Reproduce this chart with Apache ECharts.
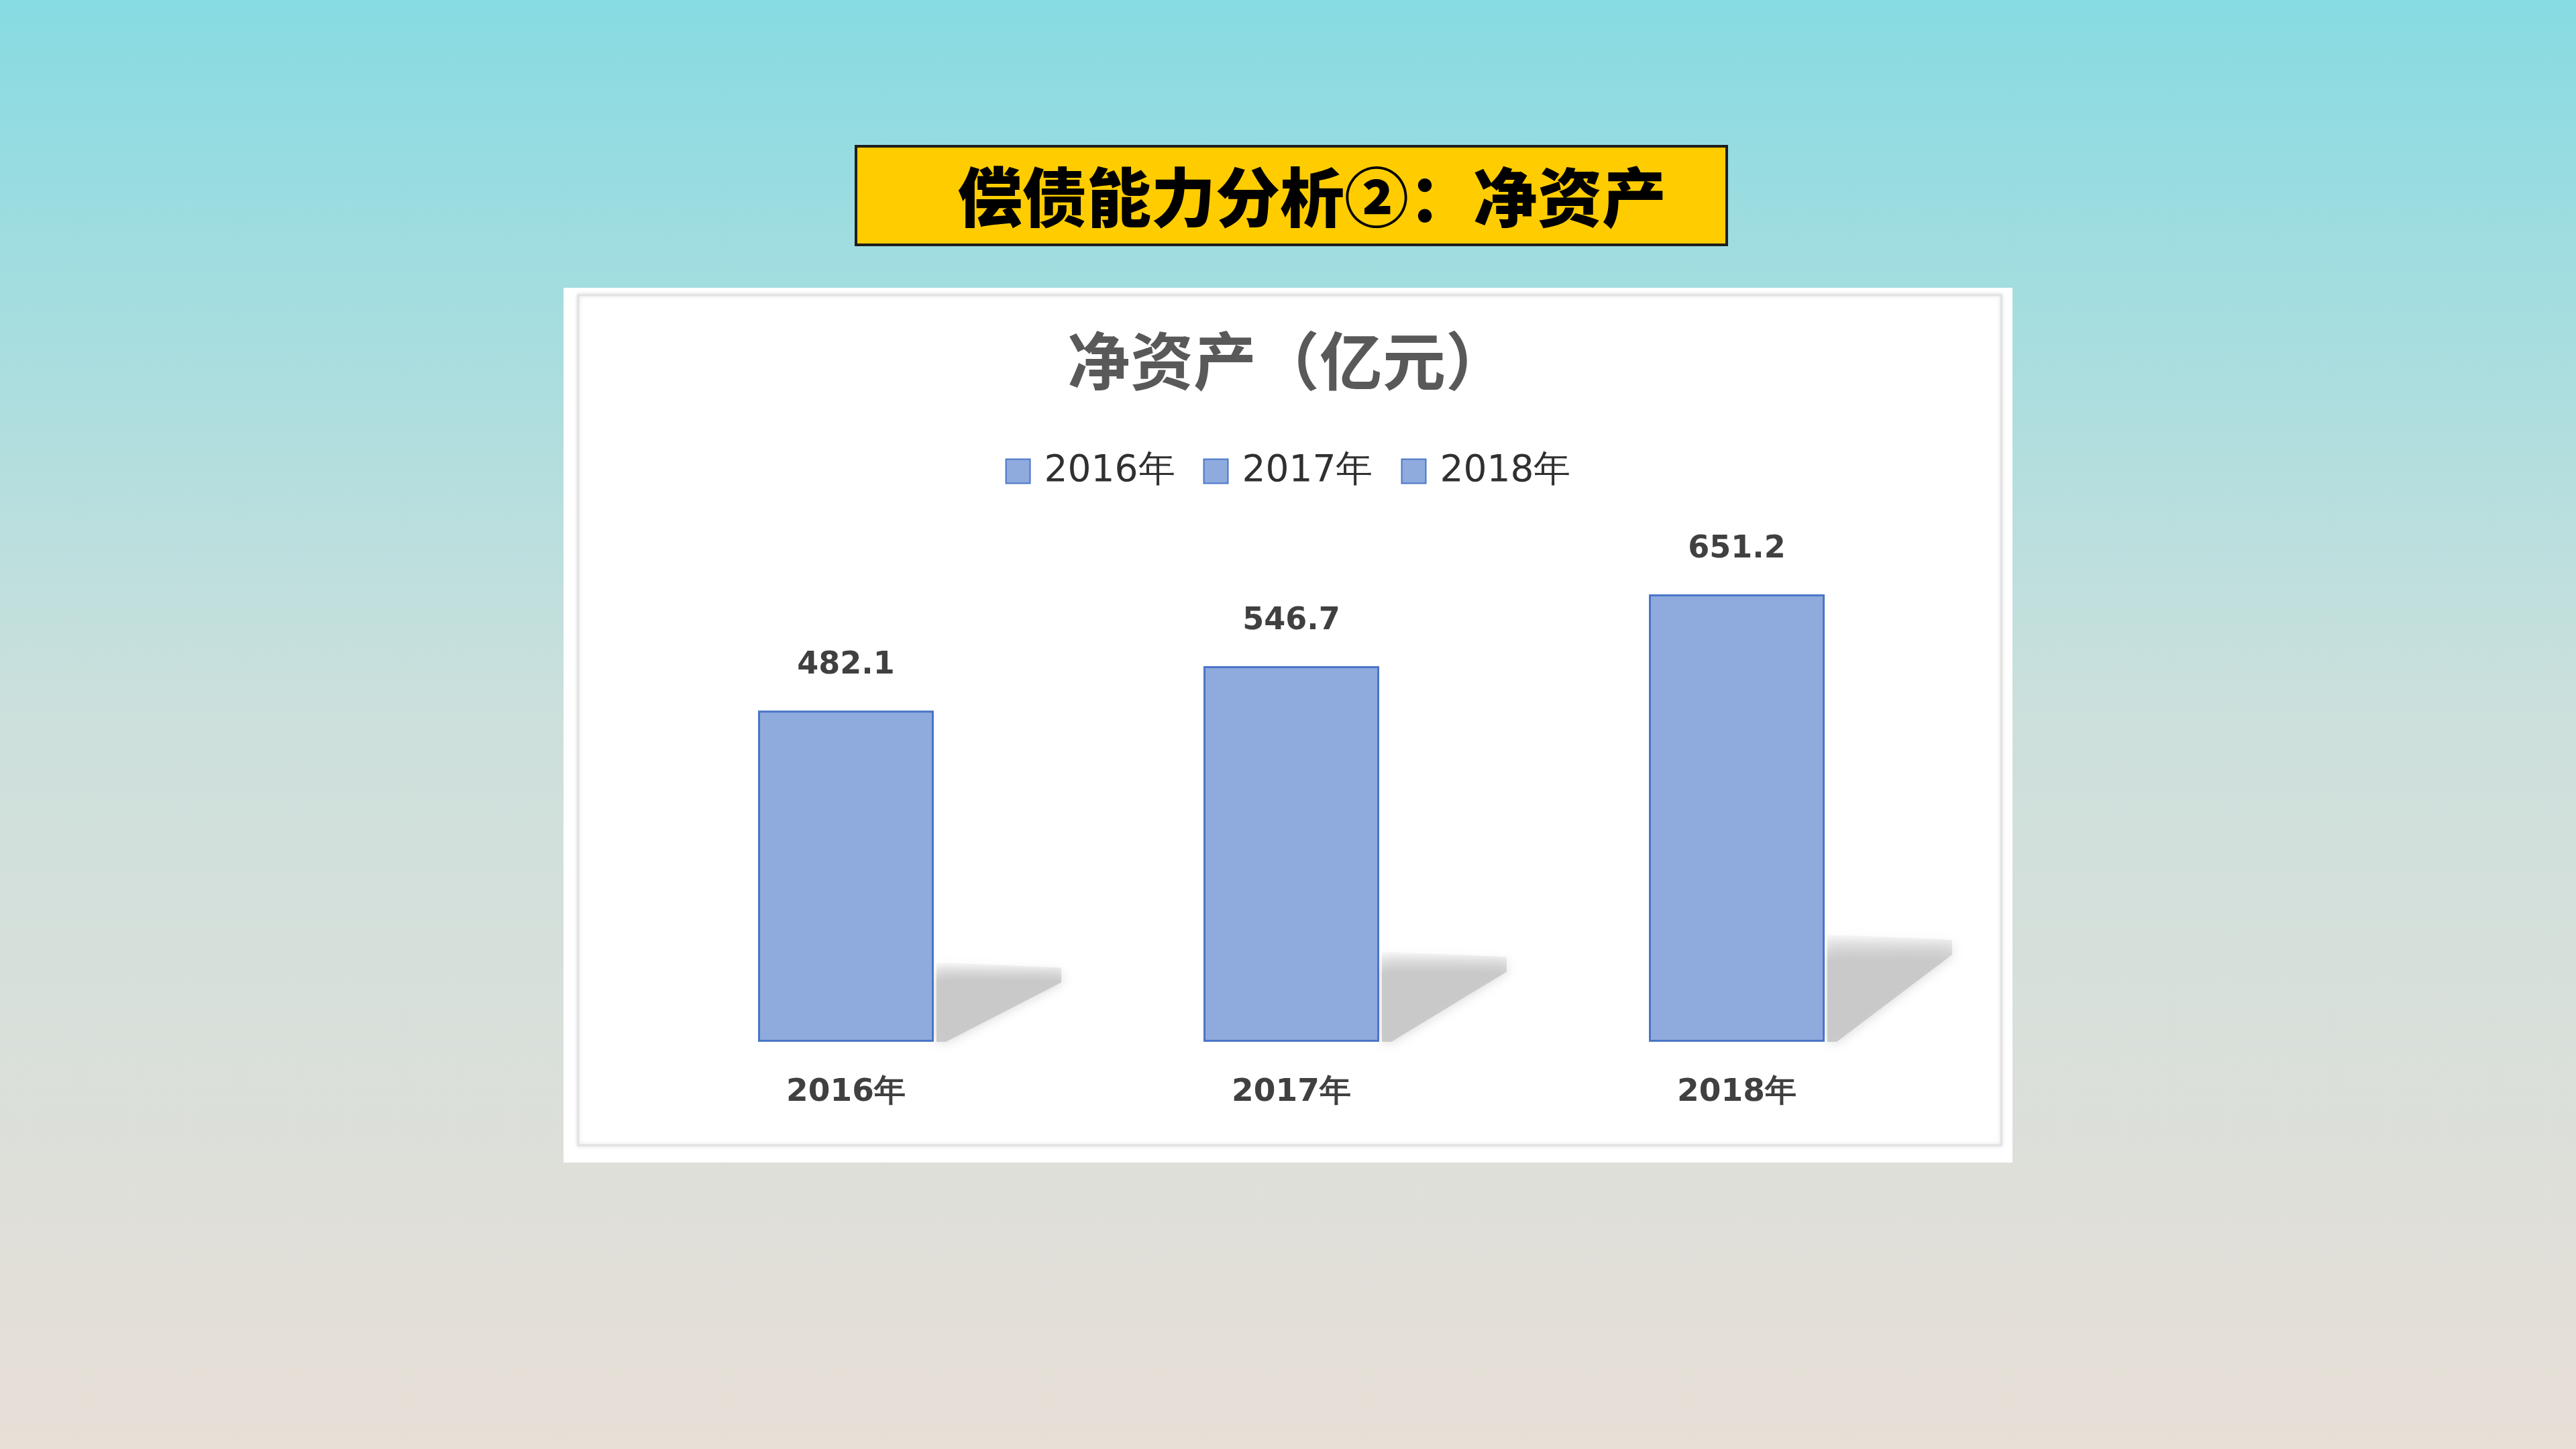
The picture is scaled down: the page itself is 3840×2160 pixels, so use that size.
<!DOCTYPE html>
<html>
<head>
<meta charset="utf-8">
<script src="https://cdn.jsdelivr.net/npm/echarts@6/dist/echarts.min.js"></script>
<style>
html,body{margin:0;padding:0;width:3840px;height:2160px;overflow:hidden;}
#chart{width:3840px;height:2160px;}
</style>
</head>
<body>
<div id="chart"></div>
<script>
const pageTitle = '偿债能力分析②：净资产';
const chartTitle = '净资产（亿元）';
const categories = ['2016年', '2017年', '2018年'];
const netAssets = [482.1, 546.7, 651.2];

const barColor = '#8faadc';
const barBorder = '#4a76c8';
const BAR_W = 262;

const chart = echarts.init(document.getElementById('chart'), null, {renderer: 'canvas'});

const barSeries = categories.map((name, i) => ({
  name: name,
  type: 'bar',
  barWidth: BAR_W,
  barGap: '-100%',
  data: categories.map((c, j) => (j === i ? netAssets[j] : '-')),
  itemStyle: {color: barColor, borderColor: barBorder, borderWidth: 3},
  label: {
    show: true,
    position: 'top',
    distance: 44,
    color: '#404040',
    fontFamily: 'DejaVu Sans',
    fontWeight: 'bold',
    fontSize: 46,
    formatter: p => p.value.toFixed(1)
  },
  emphasis: {disabled: true},
  z: 3
}));

const shadowSeries = {
  type: 'custom',
  name: 'shadow',
  silent: true,
  z: 1,
  data: netAssets.map((v, i) => [i, v]),
  renderItem: function (params, api) {
    const base = api.coord([api.value(0), 0]);
    const top = api.coord([api.value(0), api.value(1)]);
    const h = base[1] - top[1];
    const xr = base[0] + BAR_W / 2 + 4;
    const by = base[1];
    const sh = 0.24 * h;
    const w = 186;
    return {
      type: 'polygon',
      shape: {points: [[xr, by], [xr, by - sh], [xr + w, by - sh + 8], [xr + w, by - sh + 30], [xr + 14, by]]},
      style: {
        fill: new echarts.graphic.LinearGradient(0, 0, 0, 1, [
          {offset: 0, color: 'rgba(205,205,205,0.1)'},
          {offset: 0.25, color: 'rgba(200,200,200,0.95)'},
          {offset: 1, color: 'rgba(200,200,200,0.95)'}
        ]),
        shadowBlur: 18,
        shadowColor: 'rgba(200,200,200,0.8)'
      }
    };
  }
};

const option = {
  animation: false,
  backgroundColor: new echarts.graphic.LinearGradient(0, 0, 0, 1, [
    {offset: 0, color: '#87dbe2'},
    {offset: 0.5, color: '#cde0dc'},
    {offset: 1, color: '#e8dfd7'}
  ]),
  graphic: [
    {type: 'rect', z: -10, shape: {x: 840, y: 429, width: 2160, height: 1304}, style: {fill: '#ffffff'}},
    {type: 'rect', z: -9, shape: {x: 862, y: 440, width: 2121, height: 1267},
      style: {fill: '#ffffff', stroke: '#e2e2e2', lineWidth: 3, shadowBlur: 6, shadowColor: 'rgba(0,0,0,0.12)'}},
    {type: 'rect', z: -8, shape: {x: 1276, y: 218, width: 1298, height: 147},
      style: {fill: '#ffcc00', stroke: '#1e1e1e', lineWidth: 4}},
    {type: 'text', z: -7, x: 1428, y: 294,
      style: {text: pageTitle, fill: '#000000', font: '900 96px "Noto Sans CJK SC"', textVerticalAlign: 'middle', textAlign: 'left'}}
  ],
  title: {
    text: chartTitle,
    left: 'center',
    top: 486,
    textStyle: {fontFamily: 'Noto Sans CJK SC', fontWeight: 'bold', fontSize: 94, color: '#595959'}
  },
  legend: {
    data: categories,
    left: 'center',
    top: 670,
    itemWidth: 36,
    itemHeight: 36,
    itemGap: 42,
    icon: 'rect',
    itemStyle: {color: barColor, borderColor: barBorder, borderWidth: 2},
    textStyle: {fontFamily: 'DejaVu Sans', fontSize: 55, color: '#303030', padding: [0, 0, 0, 16]},
    selectedMode: false
  },
  grid: {left: 929, right: 919, top: 836, bottom: 607, containLabel: false},
  xAxis: {
    type: 'category',
    data: categories,
    axisLine: {show: false},
    axisTick: {show: false},
    axisLabel: {margin: 52, fontFamily: 'DejaVu Sans', fontWeight: 'bold', fontSize: 47, color: '#404040'}
  },
  yAxis: {
    type: 'value',
    min: 0,
    max: 700,
    interval: 100,
    show: false,
    splitLine: {show: false}
  },
  series: [shadowSeries].concat(barSeries)
};

chart.setOption(option);
</script>
</body>
</html>
